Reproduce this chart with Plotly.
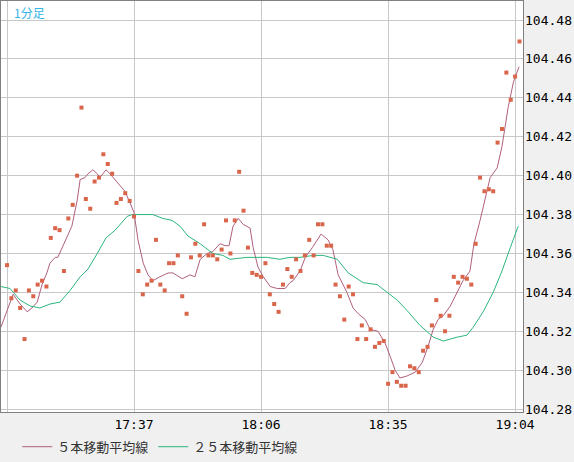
import pandas as pd
import plotly.graph_objects as go

base = pd.Timestamp("2000-01-01 17:08")

# 1分足 終値 (17:08 から 1分ごと)
price = [104.354, 104.337, 104.341, 104.332, 104.316, 104.341, 104.338, 104.344, 104.346, 104.343,
         104.368, 104.373, 104.372, 104.351, 104.378, 104.385, 104.400, 104.435, 104.388, 104.383,
         104.397, 104.399, 104.411, 104.406, 104.401, 104.386, 104.388, 104.391, 104.387, 104.379,
         104.351, 104.339, 104.344, 104.346, 104.367, 104.344, 104.341, 104.355, 104.355, 104.359,
         104.338, 104.329, 104.358, 104.365, 104.359, 104.375, 104.359, 104.359, 104.357, 104.362,
         104.377, 104.360, 104.377, 104.402, 104.382, 104.363, 104.350, 104.349, 104.348, 104.355,
         104.339, 104.334, 104.330, 104.344, 104.352,
         104.348, 104.357, 104.351, 104.359, 104.367, 104.359, 104.375, 104.375, 104.364, 104.364,
         104.344, 104.338, 104.326, 104.343, 104.339, 104.316, 104.323, 104.316, 104.321, 104.312,
         104.314, 104.315, 104.293, 104.299, 104.294, 104.292, 104.292, 104.302, 104.301, 104.299,
         104.310, 104.312, 104.323, 104.336, 104.328, 104.320, 104.328, 104.348, 104.345, 104.348,
         104.347, 104.344, 104.365, 104.399, 104.392, 104.393, 104.392, 104.417, 104.424, 104.453,
         104.439, 104.451, 104.469]
price_min = list(range(len(price)))

# 5本移動平均線 (分, 値)
ma5_min = [-1.4, 0, 1.4, 3.0, 4.6, 5.7, 6.9, 8.0, 9.1, 9.8, 11.0, 11.6, 12.8, 13.7, 14.8, 16.0, 16.7,
           17.8, 18.5, 19.6, 20.6, 21.2, 21.9, 22.6, 23.5, 24.7, 25.8, 26.9, 28.1, 29.0, 29.9, 31.1,
           32.2, 33.3, 34.9, 36.8, 37.9, 40.0, 41.8, 42.9, 44.1, 45.7, 47.0, 48.6, 49.8, 50.7, 51.6,
           52.8, 53.9, 55.5, 56.2, 57.3, 58.5, 60.1, 61.7, 63.5, 64.6, 65.3, 66.9, 68.1, 69.7, 70.8,
           71.7, 73.3, 74.4, 75.6, 77.6, 79.0, 80.2, 81.8, 82.9, 84.7, 86.3, 87.5, 88.6, 89.7, 91.3,
           93.2, 94.8, 96.1, 97.3, 98.4, 99.6, 101.2, 102.8, 104.1, 105.7, 106.6, 108.0, 109.2, 110.3,
           111.9, 113.0, 114.4, 115.6, 116.9]
ma5 = [104.322, 104.331, 104.339, 104.334, 104.330, 104.332, 104.335, 104.344, 104.350, 104.355,
       104.358, 104.358, 104.364, 104.368, 104.374, 104.387, 104.398, 104.399, 104.401, 104.403,
       104.401, 104.399, 104.401, 104.403, 104.401, 104.398, 104.395, 104.392, 104.386, 104.381,
       104.367, 104.355, 104.349, 104.346, 104.348, 104.350, 104.350, 104.347, 104.349, 104.348,
       104.357, 104.360, 104.361, 104.365, 104.364, 104.364, 104.374, 104.378, 104.375, 104.373,
       104.363, 104.353, 104.348, 104.343, 104.342, 104.342, 104.345, 104.346, 104.351, 104.358,
       104.363, 104.367, 104.370, 104.367, 104.362, 104.349, 104.340, 104.332, 104.329, 104.326,
       104.321, 104.320, 104.314, 104.307, 104.300, 104.296, 104.297, 104.299, 104.304, 104.312,
       104.321, 104.326, 104.328, 104.333, 104.340, 104.346, 104.351, 104.365, 104.377, 104.389,
       104.399, 104.404, 104.415, 104.435, 104.448, 104.456]

# 25本移動平均線
ma25_min = [-1.4, 0.7, 3.0, 5.3, 7.5, 9.8, 12.1, 14.4, 16.7, 18.5, 20.6, 22.6, 24.7, 27.4, 28.5, 32.0,
            33.3, 35.6, 37.7, 39.5, 41.3, 44.1, 47.0, 49.3, 50.9, 54.8, 59.4, 62.3, 64.6, 66.9, 69.9,
            72.2, 75.4, 77.9, 81.3, 84.5, 86.8, 89.1, 91.6, 94.3, 97.3, 99.6, 102.8, 105.0, 106.4,
            108.7, 111.0, 113.0, 114.9, 116.7]
ma25 = [104.343, 104.342, 104.336, 104.333, 104.332, 104.334, 104.335, 104.341, 104.348, 104.352,
        104.360, 104.368, 104.372, 104.379, 104.380, 104.380, 104.380, 104.378, 104.377, 104.374,
        104.369, 104.365, 104.360, 104.359, 104.357, 104.358, 104.358, 104.357, 104.358, 104.358,
        104.359, 104.359, 104.357, 104.350, 104.345, 104.344, 104.340, 104.336, 104.330, 104.323,
        104.317, 104.315, 104.317, 104.318, 104.322, 104.330, 104.340, 104.351, 104.363, 104.374]

tick_times = ["17:08", "17:37", "18:06", "18:35", "19:04"]
tick_labels = ["", "17:37", "18:06", "18:35", "19:04"]
y_ticks = [104.28, 104.30, 104.32, 104.34, 104.36, 104.38, 104.40, 104.42, 104.44, 104.46, 104.48]


def to_time(mins):
    return [base + pd.Timedelta(minutes=m) for m in mins]


fig = go.Figure()
fig.add_trace(go.Scatter(x=to_time(ma5_min), y=ma5, mode="lines", name="５本移動平均線",
                         line=dict(color="#b0607e", width=1)))
fig.add_trace(go.Scatter(x=to_time(ma25_min), y=ma25, mode="lines", name="２５本移動平均線",
                         line=dict(color="#2cb67d", width=1)))
fig.add_trace(go.Scatter(x=to_time(price_min), y=price, mode="markers", showlegend=False,
                         marker=dict(symbol="square", size=4, color="#d9654b", line=dict(width=0))))

# 右側の価格ラベル
for v in y_ticks:
    fig.add_annotation(text=f"{v:.2f}", xref="paper", yref="y", x=1, y=v, xshift=0,
                       xanchor="left", yanchor="middle", showarrow=False,
                       font=dict(family="DejaVu Sans Mono", size=13, color="black"))

fig.add_annotation(text="1分足", xref="paper", yref="paper", x=0.022, y=0.998,
                   xanchor="left", yanchor="top", showarrow=False,
                   font=dict(family="Noto Sans CJK JP", size=12, color="#33b5e5"))

fig.update_layout(
    width=574, height=462,
    margin=dict(l=1, r=51, t=1, b=50, autoexpand=False),
    paper_bgcolor="#f0f0f0", plot_bgcolor="white",
    font=dict(family="DejaVu Sans Mono", size=13, color="black"),
    legend=dict(orientation="h", x=0.03, y=0.033, xref="container", yref="container",
                xanchor="left", yanchor="middle",
                font=dict(family="Noto Sans CJK JP", size=13, color="#333"),
                bgcolor="rgba(0,0,0,0)", itemwidth=30),
)
fig.update_xaxes(range=[base - pd.Timedelta(minutes=1.37), base + pd.Timedelta(minutes=117.8)],
                 tickvals=[pd.Timestamp("2000-01-01 " + t) for t in tick_times], ticktext=tick_labels,
                 showgrid=True, gridcolor="#c8c8c8", gridwidth=1, ticks="", ticklabelstandoff=0,
                 showline=True, linecolor="#808080", mirror=True, zeroline=False)
fig.update_yaxes(range=[104.2785, 104.4898], side="right", tickvals=y_ticks,
                 showticklabels=False, showgrid=True, gridcolor="#c8c8c8", gridwidth=1,
                 ticks="", showline=True, linecolor="#808080", mirror=True, zeroline=False)

fig.write_html("out.html", config={"displayModeBar": False},
               post_script="document.body.style.margin='0';")
